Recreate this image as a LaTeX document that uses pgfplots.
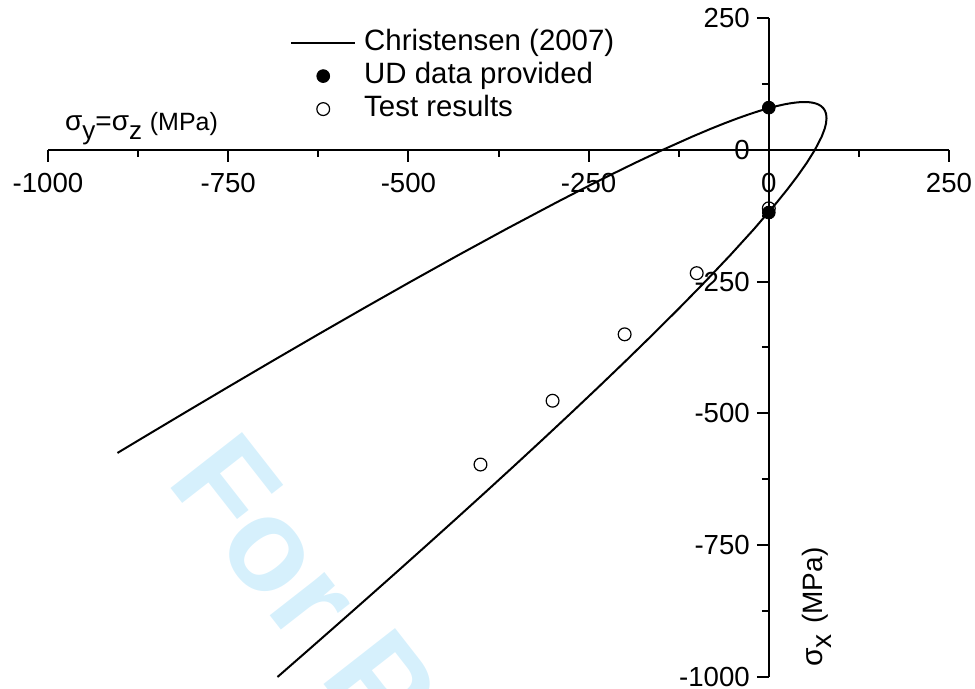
\documentclass[border=0pt]{standalone}
\usepackage{fontspec}
\setmainfont{Liberation Sans}
\usepackage{pgfplots}
\pgfplotsset{compat=1.18}
\definecolor{wm}{RGB}{214,240,252}
\begin{document}
\begin{tikzpicture}
\begin{axis}[
  scale only axis, width=450.5pt, height=329.5pt,
  xmin=-1000, xmax=250, ymin=-1000, ymax=250,
  axis lines=middle,
  axis line style={-, line width=1pt, black},
  every inner x axis line/.append style={-},
  every inner y axis line/.append style={-},
  xtick={-1000,-750,-500,-250,0,250},
  ytick={-1000,-750,-500,-250,0,250},
  minor xtick={-875,-625,-375,-125,125},
  minor ytick={-875,-625,-375,-125,125},
  tick align=outside,
  major tick length=6pt, minor tick length=3.5pt,
  tick style={black, line width=1pt},
  hide obscured x ticks=false, hide obscured y ticks=false,
  /pgf/number format/assume math mode=true,
  /pgf/number format/1000 sep={},
  tick label style={font=\fontsize{13.8}{16}\selectfont},
  xticklabel style={yshift=-2pt},
  clip=false,
  legend style={draw=none, fill=none, at={(axis cs:-664.5,233.5)}, anchor=north west, inner sep=0pt, row sep=0.5pt, column sep=3pt, font=\fontsize{14.7}{17}\selectfont, nodes={inner sep=1pt, text height=10.5pt, text depth=3.5pt}},
  legend cell align=left,
  legend image code/.code={\draw[mark repeat=2,mark phase=2,#1] plot coordinates {(0pt,0pt) (16pt,0pt) (32pt,0pt)};},
]
\node[rotate=-52, anchor=base west, inner sep=0pt, text=wm, font=\fontsize{66}{66}\selectfont\bfseries] at (axis cs:-838,-628) {For Peer Review};
\coordinate (BL) at (rel axis cs:0,0);
\coordinate (TR) at (rel axis cs:1,1);
\addplot[black, line width=1pt, no marks] coordinates {
(-903.59,-575) (-873.14,-550) (-811.91,-500) (-750.17,-450) (-687.89,-400) (-624.96,-350) (-561.27,-300) (-496.68,-250) (-430.96,-200) (-363.82,-150) (-294.80,-100) (-259.35,-75) (-223.07,-50) (-185.75,-25) (-147.0,0) (-106.19,25) (-80.22,40) (-61.97,50) (-42.62,60) (-25.98,68) (-12.43,74) (0.0,79) (11.20,83) (20.99,86) (28.88,88) (36.58,89.5) (42.85,90.3) (49.47,90.62) (55.45,90.3) (60.10,89.5) (64.80,88) (68.67,86) (72.44,83) (75.60,79) (77.99,74) (79.50,68) (80.08,60) (79.35,50) (77.52,40) (73.39,25) (64.0,0) (52.55,-25) (39.69,-50) (25.77,-75) (11.04,-100) (-20.32,-150) (-53.58,-200) (-88.24,-250) (-124.03,-300) (-160.72,-350) (-198.17,-400) (-236.27,-450) (-274.93,-500) (-314.08,-550) (-353.66,-600) (-393.62,-650) (-433.94,-700) (-474.57,-750) (-515.49,-800) (-556.68,-850) (-598.11,-900) (-639.77,-950) (-681.64,-1000)
};
\addlegendentry{Christensen (2007)}
\addplot[only marks, mark=*, mark size=3.2pt, black] coordinates {(0,80) (0,-119)};
\addlegendentry{UD data provided}
\addplot[only marks, mark=o, mark size=3.2pt, black, mark options={line width=0.6pt}] coordinates {(0,-111) (-100,-234) (-200,-350) (-300,-476) (-400,-597)};
\addlegendentry{Test results}
\node[anchor=base west, inner sep=0pt, font=\fontsize{14}{16}\selectfont] at (axis cs:-976.7,35.7) {σ\raisebox{-4.5pt}{\fontsize{13}{13}\selectfont y}=σ\raisebox{-4.5pt}{\fontsize{13}{13}\selectfont z} {\fontsize{12.5}{14}\selectfont(MPa)}};
\node[rotate=90, anchor=base west, inner sep=0pt, font=\fontsize{15}{17}\selectfont] at (axis cs:74,-981) {σ\raisebox{-4.5pt}{\fontsize{14}{14}\selectfont x}\hspace{1pt} {\fontsize{14}{16}\selectfont(MPa)}};
\end{axis}
\pgfresetboundingbox
\path[use as bounding box] ([xshift=-24pt,yshift=-6pt]BL) rectangle ([xshift=13pt,yshift=9pt]TR);
\end{tikzpicture}
\end{document}
